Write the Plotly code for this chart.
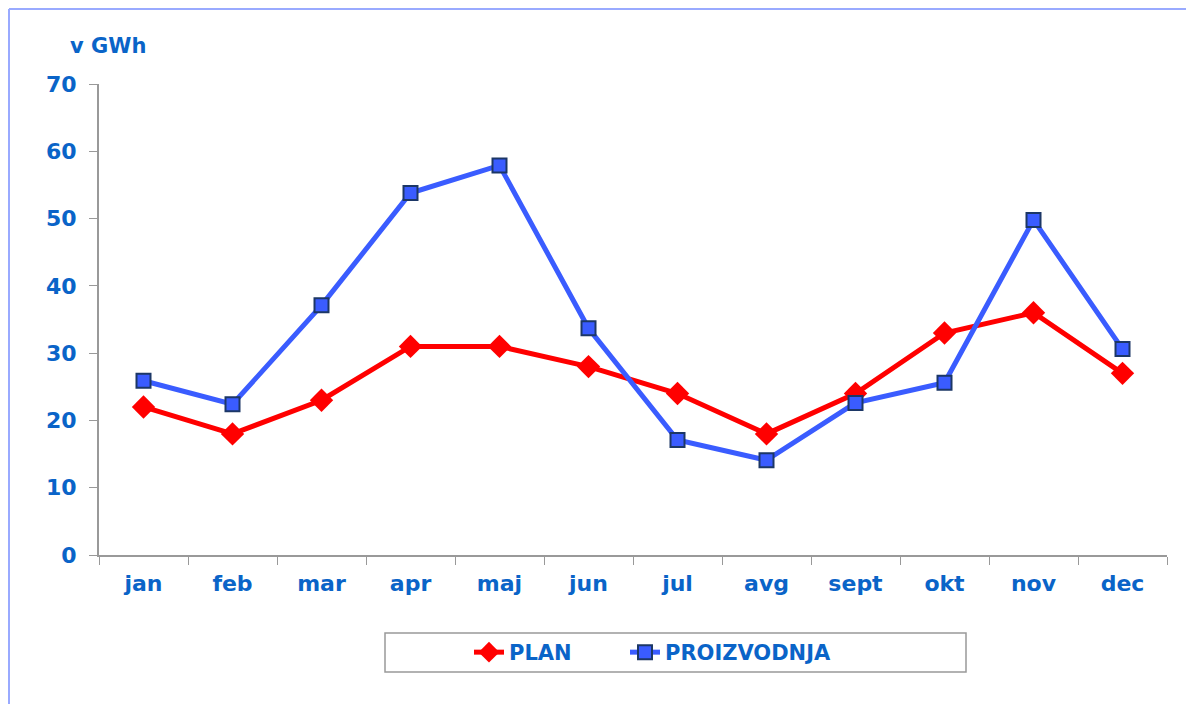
import plotly.graph_objects as go

months = ["jan", "feb", "mar", "apr", "maj", "jun", "jul", "avg", "sept", "okt", "nov", "dec"]
plan = [22, 18, 23, 31, 31, 28, 24, 18, 24, 33, 36, 27]
proizvodnja = [25.9, 22.4, 37.1, 53.8, 57.9, 33.7, 17.1, 14.1, 22.6, 25.6, 49.8, 30.6]
y_ticks = [0, 10, 20, 30, 40, 50, 60, 70]

OFF = 8  # page body margin
W, H = 1194 - OFF, 704 - OFF
L, T = 99 - OFF, 84 - OFF
R = W - (1167 - OFF)
B = H - (555 - OFF)
pw, ph = W - L - R, H - T - B

def px(x):
    return (x - OFF - L) / pw

def py(y):
    return (H - B - (y - OFF)) / ph

label_color = "#0a64c8"
font_family = "DejaVu Sans, Verdana, sans-serif"
legend_font = dict(family=font_family, size=21, color=label_color, weight="bold")

fig = go.Figure()
fig.add_trace(go.Scatter(
    x=months, y=plan, name="PLAN", mode="lines+markers", legend="legend",
    line=dict(color="#ff0000", width=5),
    marker=dict(symbol="diamond", size=18, color="#ff0000", line=dict(width=0)),
))
fig.add_trace(go.Scatter(
    x=months, y=proizvodnja, name="PROIZVODNJA", mode="lines+markers", legend="legend2",
    line=dict(color="#3a5cff", width=5),
    marker=dict(symbol="square", size=14, color="#3a5cff", line=dict(width=2, color="#1c3766")),
))

fig.update_layout(
    width=W, height=H,
    margin=dict(l=L, r=R, t=T, b=B),
    paper_bgcolor="white", plot_bgcolor="white",
    font=dict(family=font_family, color=label_color, size=21),
    showlegend=True,
    legend=dict(
        orientation="h", x=px(469), xanchor="left", y=py(652.5), yanchor="middle",
        font=legend_font, bgcolor="rgba(0,0,0,0)", borderwidth=0,
    ),
    legend2=dict(
        orientation="h", x=px(625), xanchor="left", y=py(652.5), yanchor="middle",
        font=legend_font, bgcolor="rgba(0,0,0,0)", borderwidth=0,
    ),
    xaxis=dict(
        type="category", tickson="boundaries", range=[-0.5, 11.5],
        showgrid=False, showline=True, linecolor="#999999", linewidth=2,
        ticks="outside", ticklen=8, tickcolor="#999999", tickwidth=1,
        ticklabelstandoff=8,
        tickfont=dict(family=font_family, size=22, color=label_color, weight="bold"),
        fixedrange=True,
    ),
    yaxis=dict(
        range=[0, 70], tickvals=y_ticks, showgrid=False, zeroline=False,
        showline=True, linecolor="#999999", linewidth=2,
        ticks="outside", ticklen=8, tickcolor="#999999", tickwidth=1,
        ticklabelstandoff=8,
        tickfont=dict(family=font_family, size=22, color=label_color, weight="bold"),
        fixedrange=True,
    ),
    annotations=[dict(
        text="v GWh", xref="paper", yref="paper", x=px(68), y=py(46),
        xanchor="left", yanchor="middle", showarrow=False,
        font=dict(family=font_family, size=21, color=label_color, weight="bold"),
    )],
    shapes=[
        dict(type="rect", xref="paper", yref="paper", x0=px(385), x1=px(966), y0=py(672), y1=py(633),
             line=dict(color="#999999", width=1.5), fillcolor="rgba(0,0,0,0)"),
        dict(type="line", xref="paper", yref="paper", x0=px(9), x1=px(1200), y0=py(9), y1=py(9),
             line=dict(color="#99aaff", width=2)),
        dict(type="line", xref="paper", yref="paper", x0=px(9), x1=px(9), y0=py(9), y1=py(710),
             line=dict(color="#99aaff", width=2)),
    ],
)

fig.write_html("out.html")
